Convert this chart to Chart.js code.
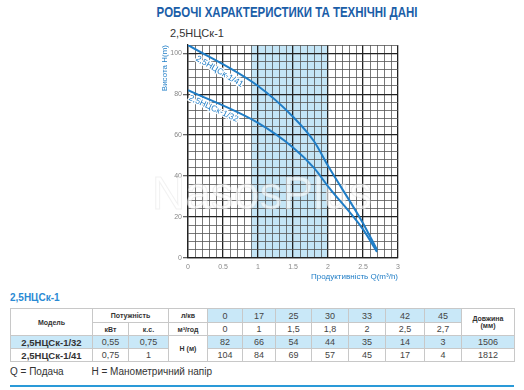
<!DOCTYPE html>
<html>
<head>
<meta charset="utf-8">
<script src="https://cdn.jsdelivr.net/npm/chart.js@4"></script>
<style>
  body { margin:0; width:524px; height:390px; background:#fff; position:relative; overflow:hidden;
         font-family:"Liberation Sans", Arial, sans-serif; }
  #titulo { position:absolute; top:3px; left:0; width:575px; text-align:center; }
  #titulo span { display:inline-block; transform:scaleX(0.82); color:#1b5ea8;
            font-family:"Liberation Sans",sans-serif; font-weight:bold; font-size:14px; }
  #subtitulo { position:absolute; top:27px; left:170px; font-size:11px; color:#333; }
  #contenedorCanvas { position:absolute; left:0; top:0; width:524px; height:290px; }
  #modeloTitulo { position:absolute; top:292px; left:10px; font-size:10px; font-weight:bold; color:#2a8ad4; }
  table { position:absolute; top:308px; left:10px; border-collapse:collapse; table-layout:fixed;
          font-size:9px; color:#444; }
  td { border:1px solid #c8c8c8; text-align:center; padding:0; height:12px; }
  td.h { font-weight:bold; font-size:7px; color:#333; }
  td.az { background:#c9e8f8; }
  td.m { font-weight:bold; font-size:9.5px; color:#333; }
  #nota { position:absolute; top:366px; left:10px; font-size:10px; color:#333; }
  #linea { position:absolute; top:385px; left:10px; width:504px; height:2px; background:#2a9ad8; }
</style>
</head>
<body>
<div id="titulo"><span>РОБОЧІ ХАРАКТЕРИСТИКИ ТА ТЕХНІЧНІ ДАНІ</span></div>
<div id="subtitulo">2,5НЦСк-1</div>
<div id="contenedorCanvas"><canvas id="grafNasos" width="524" height="290"></canvas></div>
<div id="modeloTitulo">2,5НЦСк-1</div>
<table id="tabla"></table>
<div id="nota">Q = Подача&nbsp;&nbsp;&nbsp;&nbsp;&nbsp;&nbsp;&nbsp;&nbsp;&nbsp;&nbsp;H = Манометричний напір</div>
<div id="linea"></div>

<script>
// datos de la tabla / curvas
let modelos = ['2,5НЦСк-1/32', '2,5НЦСк-1/41']
let potenciaKw = ['0,55', '0,75']
let potenciaCv = ['0,75', '1']
let litrosMin = [0, 17, 25, 30, 33, 42, 45]
let caudal = [0, 1, 1.5, 1.8, 2, 2.5, 2.7]
let altura32 = [82, 66, 54, 44, 35, 14, 3]
let altura41 = [104, 84, 69, 57, 45, 17, 4]
let longitud = [1506, 1812]

let bandaDesde = 0.9
let bandaHasta = 2.0

let azul = '#1f7dc6'

// tabla html
let anchos = [82, 36, 40, 39, 35, 33, 36, 37, 37, 39, 37, 53]
let fmt = v => String(v).replace('.', ',')
let tabla = document.querySelector('#tabla')
let html = '<colgroup>' + anchos.map(a => `<col style="width:${a}px">`).join('') + '</colgroup>'
html += `<tr style="height:14px"><td class="h" rowspan="2">Модель</td><td class="h" colspan="2">Потужність</td><td class="h">л/кв</td>`
litrosMin.forEach(v => { html += `<td class="az">${v}</td>` })
html += `<td class="h" rowspan="2">Довжина<br>(мм)</td></tr>`
html += `<tr><td class="h">кВт</td><td class="h">к.с.</td><td class="h">м³/год</td>`
caudal.forEach(v => { html += `<td>${fmt(v)}</td>` })
html += `</tr>`
let alturas = [altura32, altura41]
modelos.forEach((m, i) => {
    let cls = i == 0 ? 'az' : ''
    html += `<tr><td class="m ${cls}">${m}</td><td class="${cls}">${potenciaKw[i]}</td><td class="${cls}">${potenciaCv[i]}</td>`
    if (i == 0) html += `<td class="h" rowspan="2">H (м)</td>`
    alturas[i].forEach(v => { html += `<td class="${cls}">${v}</td>` })
    html += `<td class="${cls}">${longitud[i]}</td></tr>`
})
tabla.innerHTML = html

// plugin: banda azul, marca de agua y etiquetas de curva
let extras = {
    id: 'extras',
    beforeDraw(chart) {
        let { ctx, chartArea, scales } = chart
        let x1 = scales.x.getPixelForValue(bandaDesde)
        let x2 = scales.x.getPixelForValue(bandaHasta)
        ctx.save()
        ctx.fillStyle = '#c4e5f6'
        ctx.fillRect(x1, chartArea.top, x2 - x1, chartArea.bottom - chartArea.top)
        ctx.restore()
    },
    beforeDatasetsDraw(chart) {
        let ctx = chart.ctx
        ctx.save()
        ctx.font = '46px "Liberation Sans", Arial, sans-serif'
        ctx.textAlign = 'center'
        ctx.textBaseline = 'middle'
        ctx.fillStyle = 'rgba(255,255,255,0.6)'
        ctx.strokeStyle = 'rgba(200,200,200,0.25)'
        ctx.lineWidth = 1
        ctx.fillText('NasosPlus', 262, 196)
        ctx.strokeText('NasosPlus', 262, 196)
        ctx.restore()
    },
    afterDatasetsDraw(chart) {
        let ctx = chart.ctx
        let xs = chart.scales.x
        chart.data.datasets.forEach((ds, i) => {
            let pts = chart.getDatasetMeta(i).data
            let a = pts[0], b = pts[1]
            let px = xs.getPixelForValue(ds.etiquetaQ)
            let t = (px - a.x) / (b.x - a.x)
            let py = a.y + t * (b.y - a.y)
            let ang = Math.atan2(b.y - a.y, b.x - a.x)
            ctx.save()
            ctx.translate(px - Math.sin(ang) * ds.etiquetaOff, py + Math.cos(ang) * ds.etiquetaOff)
            ctx.rotate(ang)
            ctx.font = '8.5px "Liberation Sans", Arial, sans-serif'
            ctx.textAlign = 'center'
            ctx.textBaseline = 'middle'
            ctx.lineWidth = 2.5
            ctx.strokeStyle = '#fff'
            ctx.strokeText(ds.label, 0, 0)
            ctx.fillStyle = azul
            ctx.fillText(ds.label, 0, 0)
            ctx.restore()
        })
    }
}

let esMayor = (v, paso) => Math.abs(v / paso - Math.round(v / paso)) < 1e-6

new Chart(document.querySelector('#grafNasos'), {
    type: 'line',
    data: {
        datasets: [{
            label: modelos[1],
            data: caudal.map((q, i) => ({ x: q, y: altura41[i] })),
            borderColor: azul,
            borderWidth: 2,
            pointRadius: 0,
            cubicInterpolationMode: 'monotone',
            etiquetaQ: 0.5,
            etiquetaOff: 7
        }, {
            label: modelos[0],
            data: caudal.map((q, i) => ({ x: q, y: altura32[i] })),
            borderColor: azul,
            borderWidth: 2,
            pointRadius: 0,
            cubicInterpolationMode: 'monotone',
            etiquetaQ: 0.4,
            etiquetaOff: 6
        }]
    },
    options: {
        responsive: false,
        animation: false,
        layout: { padding: { left: 160, top: 45, right: 126, bottom: 8 } },
        plugins: { legend: { display: false }, tooltip: { enabled: false } },
        scales: {
            x: {
                type: 'linear', min: 0, max: 3,
                afterFit: s => { s.height = 24 },
                ticks: {
                    stepSize: 0.1, autoSkip: false, maxRotation: 0, padding: 5,
                    color: '#888', font: { size: 7, family: '"Liberation Sans", Arial' },
                    callback: v => esMayor(v, 0.5) ? String(Math.round(v * 10) / 10) : ''
                },
                grid: {
                    drawTicks: false,
                    color: c => esMayor(c.tick.value, 0.5) ? '#222' : '#555',
                    lineWidth: c => esMayor(c.tick.value, 0.5) ? 1.3 : 0.8
                },
                border: { color: '#222', width: 1.3 },
                title: {
                    display: true, text: 'Продуктивність Q(m³/h)', align: 'end',
                    color: azul, font: { size: 8, family: '"Liberation Sans", Arial' },
                    padding: { top: 0, bottom: 0 }
                }
            },
            y: {
                min: 0, max: 104,
                afterFit: s => { s.width = 28 },
                ticks: {
                    stepSize: 4, autoSkip: false, padding: 1,
                    color: '#888', font: { size: 7, family: '"Liberation Sans", Arial' },
                    callback: v => esMayor(v, 20) ? String(v) : ''
                },
                grid: {
                    tickLength: 5,
                    color: c => esMayor(c.tick.value, 20) ? '#222' : '#555',
                    lineWidth: c => esMayor(c.tick.value, 20) ? 1.3 : 0.8,
                    tickColor: c => esMayor(c.tick.value, 20) ? '#666' : 'rgba(0,0,0,0)'
                },
                border: { color: '#222', width: 1.3 },
                title: {
                    display: true, text: 'Висота H(m)', align: 'end',
                    color: azul, font: { size: 8, family: '"Liberation Sans", Arial' },
                    padding: { top: 0, bottom: 0 }
                }
            }
        }
    },
    plugins: [extras]
})
</script>
</body>
</html>
